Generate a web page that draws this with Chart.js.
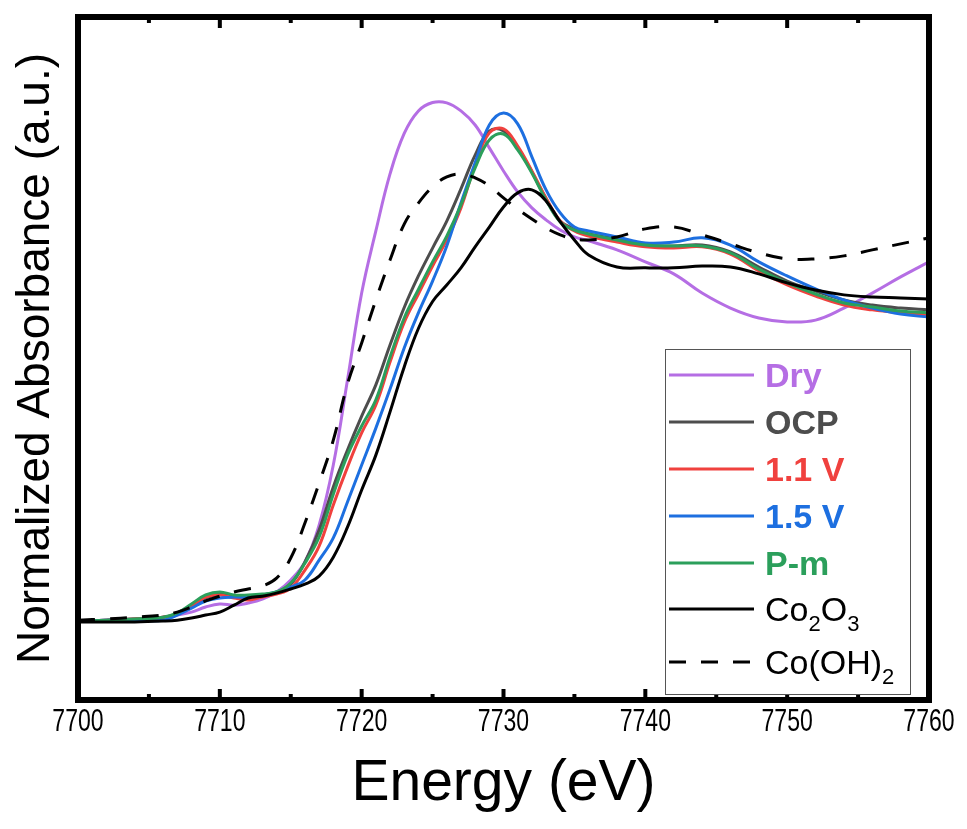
<!DOCTYPE html>
<html>
<head>
<meta charset="utf-8">
<title>Co K-edge XANES</title>
<script src="https://cdn.jsdelivr.net/npm/chart.js@4.4.1/dist/chart.umd.min.js"></script>
<style>
  html, body { margin: 0; padding: 0; background: #fff; }
  #wrap { width: 967px; height: 829px; }
</style>
</head>
<body>
<div id="wrap"><canvas id="xanes" width="967" height="829"></canvas></div>
<script>
// Energy grid (eV) shared by every spectrum
const energy = [7700, 7702, 7704, 7706, 7707, 7708, 7709, 7710, 7711, 7712, 7713, 7714, 7715,
  7716, 7717, 7718, 7719, 7720, 7721, 7722, 7723, 7724, 7725, 7726, 7727, 7728, 7729, 7730,
  7731, 7732, 7733, 7734, 7735, 7736, 7738, 7740, 7742, 7744, 7746, 7748, 7750, 7752, 7754,
  7756, 7758, 7760];

// Normalized absorbance for each sample
const dry = [0, 0.003, 0.007, 0.013, 0.02, 0.03, 0.047, 0.057, 0.053, 0.06, 0.073, 0.097, 0.137,
  0.197, 0.32, 0.52, 0.803, 1.093, 1.3, 1.49, 1.625, 1.7, 1.728, 1.727, 1.7, 1.653, 1.577, 1.5,
  1.43, 1.377, 1.337, 1.303, 1.28, 1.267, 1.237, 1.197, 1.157, 1.093, 1.043, 1.01, 0.997, 1.003,
  1.043, 1.093, 1.147, 1.197];
const ocp = [0, 0.003, 0.007, 0.013, 0.023, 0.047, 0.077, 0.09, 0.083, 0.083, 0.087, 0.097, 0.123,
  0.197, 0.303, 0.447, 0.57, 0.683, 0.787, 0.92, 1.045, 1.15, 1.243, 1.333, 1.44, 1.553, 1.633,
  1.633, 1.577, 1.497, 1.407, 1.333, 1.307, 1.29, 1.273, 1.253, 1.25, 1.253, 1.23, 1.18, 1.133,
  1.1, 1.07, 1.053, 1.043, 1.037];
const v11 = [0, 0.003, 0.007, 0.013, 0.023, 0.05, 0.08, 0.087, 0.077, 0.07, 0.08, 0.09, 0.11,
  0.17, 0.25, 0.387, 0.513, 0.627, 0.72, 0.863, 0.995, 1.09, 1.183, 1.27, 1.377, 1.52, 1.627,
  1.64, 1.583, 1.5, 1.41, 1.333, 1.3, 1.283, 1.263, 1.247, 1.243, 1.247, 1.223, 1.167, 1.12,
  1.083, 1.053, 1.037, 1.027, 1.02];
const v15 = [0, 0.003, 0.003, 0.003, 0.02, 0.043, 0.067, 0.077, 0.08, 0.08, 0.087, 0.097, 0.113,
  0.137, 0.203, 0.277, 0.397, 0.52, 0.643, 0.773, 0.91, 1.027, 1.133, 1.25, 1.393, 1.527, 1.653,
  1.693, 1.657, 1.547, 1.437, 1.36, 1.313, 1.3, 1.28, 1.26, 1.263, 1.277, 1.253, 1.197, 1.15,
  1.107, 1.07, 1.043, 1.023, 1.013];
const pm = [0, 0.003, 0.007, 0.013, 0.027, 0.057, 0.087, 0.097, 0.087, 0.087, 0.09, 0.097, 0.127,
  0.193, 0.28, 0.423, 0.553, 0.65, 0.737, 0.88, 1.01, 1.105, 1.197, 1.283, 1.387, 1.51, 1.603,
  1.623, 1.57, 1.493, 1.403, 1.33, 1.303, 1.29, 1.27, 1.253, 1.25, 1.25, 1.227, 1.173, 1.127,
  1.09, 1.06, 1.047, 1.033, 1.027];
// Reference compounds
const co2o3 = [-0.003, -0.003, -0.003, 0, 0.003, 0.01, 0.02, 0.03, 0.053, 0.077, 0.083, 0.093,
  0.107, 0.123, 0.15, 0.213, 0.313, 0.437, 0.553, 0.697, 0.847, 0.975, 1.065, 1.12, 1.177, 1.247,
  1.313, 1.38, 1.427, 1.437, 1.4, 1.33, 1.27, 1.22, 1.18, 1.177, 1.177, 1.183, 1.18, 1.157,
  1.127, 1.103, 1.087, 1.08, 1.077, 1.073];
const coOH2 = [0.003, 0.007, 0.013, 0.02, 0.03, 0.047, 0.067, 0.083, 0.097, 0.107, 0.117, 0.143,
  0.21, 0.327, 0.46, 0.603, 0.79, 0.927, 1.07, 1.203, 1.323, 1.393, 1.447, 1.48, 1.49, 1.477,
  1.45, 1.41, 1.373, 1.34, 1.31, 1.287, 1.273, 1.27, 1.28, 1.307, 1.313, 1.287, 1.257, 1.227,
  1.207, 1.207, 1.217, 1.237, 1.257, 1.277];

const seriesNames = ['Dry', 'OCP', '1.1 V', '1.5 V', 'P-m', 'Co2O3', 'Co(OH)2'];
const seriesValues = [dry, ocp, v11, v15, pm, co2o3, coOH2];
const xTicks = [7700, 7710, 7720, 7730, 7740, 7750, 7760];
const xMin = 7700, xMax = 7760, xMinor = 5;
const yMin = -0.263, yMax = 2.013;

const colors = ['#b56ee4', '#4d4d4d', '#f0413e', '#1d6fe0', '#2b9f5b', '#000000', '#000000'];
const FONT = "'Liberation Sans', Arial, Helvetica, sans-serif";

// legend text pieces: [text, isSubscript]
const legendParts = [
  [['Dry', 0]], [['OCP', 0]], [['1.1 V', 0]], [['1.5 V', 0]], [['P-m', 0]],
  [['Co', 0], ['2', 1], ['O', 0], ['3', 1]],
  [['Co(OH)', 0], ['2', 1]]
];
const legendBold = [true, true, true, true, true, false, false];

const datasets = seriesValues.map((vals, i) => ({
  label: seriesNames[i],
  data: energy.map((e, k) => ({ x: e, y: vals[k] })),
  borderColor: colors[i],
  borderWidth: 3,
  borderDash: i === 6 ? [17, 15] : [],
  pointRadius: 0,
  fill: false,
  tension: 0.4,
  order: seriesValues.length - i
}));

// box frame, inward ticks on top and bottom, condensed tick labels
const framePlugin = {
  id: 'frame',
  afterDatasetsDraw(chart) {
    const { ctx, chartArea: { left, right, top, bottom }, scales: { x } } = chart;
    ctx.save();
    ctx.strokeStyle = '#000';
    ctx.lineWidth = 4;
    for (let v = xMin; v <= xMax; v += xMinor) {
      const px = x.getPixelForValue(v);
      const len = xTicks.includes(v) ? 11 : 6;
      ctx.beginPath();
      ctx.moveTo(px, bottom); ctx.lineTo(px, bottom - len);
      ctx.moveTo(px, top); ctx.lineTo(px, top + len);
      ctx.stroke();
    }
    ctx.lineWidth = 6;
    ctx.strokeRect(left, top, right - left, bottom - top);

    ctx.fillStyle = '#000';
    ctx.font = '32px ' + FONT;
    ctx.textAlign = 'center';
    ctx.textBaseline = 'middle';
    xTicks.forEach(v => {
      ctx.save();
      ctx.translate(x.getPixelForValue(v), bottom + 22);
      ctx.scale(0.72, 1);
      ctx.fillText(String(v), 0, 0);
      ctx.restore();
    });
    ctx.restore();
  }
};

function drawParts(ctx, parts, x, y, color, bold) {
  ctx.fillStyle = color;
  parts.forEach(([text, sub]) => {
    ctx.font = (bold ? 'bold ' : '') + (sub ? 22 : 34) + 'px ' + FONT;
    ctx.fillText(text, x, sub ? y + 10 : y);
    x += ctx.measureText(text).width;
  });
}

const legendPlugin = {
  id: 'boxLegend',
  afterDraw(chart) {
    const ctx = chart.ctx;
    const rows = [375, 422, 469, 516, 563, 609, 662];
    ctx.save();
    ctx.fillStyle = '#fff';
    ctx.fillRect(665, 349, 245, 345);
    ctx.strokeStyle = '#555';
    ctx.lineWidth = 1;
    ctx.strokeRect(665.5, 349.5, 245, 345);
    ctx.textBaseline = 'alphabetic';
    chart.data.datasets.forEach((ds, i) => {
      const y = rows[i];
      ctx.strokeStyle = ds.borderColor;
      ctx.lineWidth = 3;
      ctx.setLineDash(ds.borderDash);
      ctx.beginPath();
      ctx.moveTo(669, y); ctx.lineTo(754, y);
      ctx.stroke();
      ctx.setLineDash([]);
      drawParts(ctx, legendParts[i], 765, y + 12, ds.borderColor, legendBold[i]);
    });
    ctx.restore();
  }
};

new Chart(document.getElementById('xanes'), {
  type: 'line',
  data: { datasets },
  options: {
    responsive: false,
    animation: false,
    layout: { padding: { top: 17, right: 38, left: 0, bottom: 0 } },
    plugins: { legend: { display: false }, tooltip: { enabled: false } },
    scales: {
      x: {
        type: 'linear',
        min: xMin,
        max: xMax,
        grid: { display: false },
        border: { display: false },
        ticks: { display: false },
        title: {
          display: true,
          text: 'Energy (eV)',
          color: '#000',
          font: { family: FONT, size: 57, lineHeight: 1 },
          padding: { top: 0, bottom: 16 }
        },
        afterFit(scale) { scale.height = 129; }
      },
      y: {
        min: yMin,
        max: yMax,
        grid: { display: false },
        border: { display: false },
        ticks: { display: false },
        title: {
          display: true,
          text: 'Normalized Absorbance (a.u.)',
          color: '#000',
          font: { family: FONT, size: 46, lineHeight: 1 },
          padding: { top: 13, bottom: 0 }
        },
        afterFit(scale) { scale.width = 78; }
      }
    }
  },
  plugins: [framePlugin, legendPlugin]
});
</script>
</body>
</html>
